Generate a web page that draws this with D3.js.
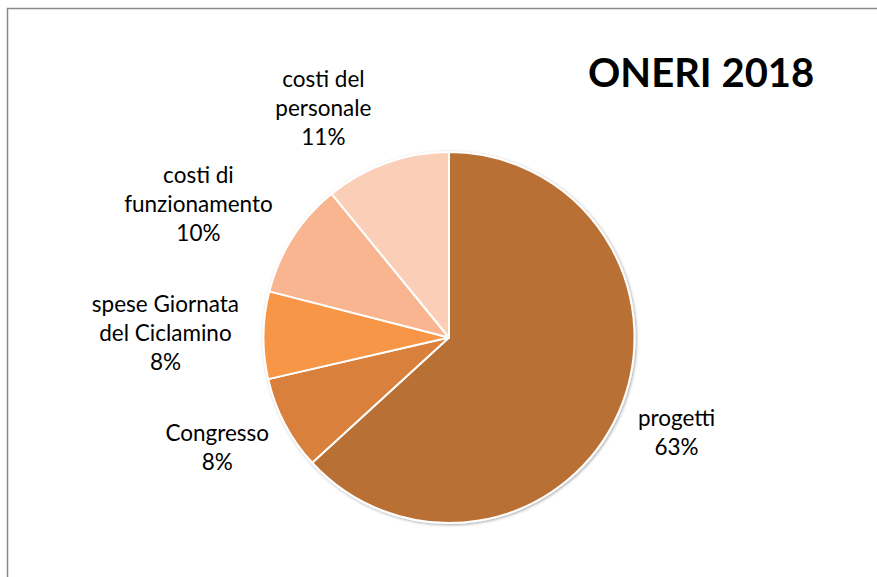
<!DOCTYPE html>
<html lang="it">
  <head>
    <meta charset="utf-8">
    <script src="https://cdn.jsdelivr.net/npm/d3@7"></script>
    <style>
      body { margin: 0; background: #fff; }
      text { font-family: Lato, "Open Sans", sans-serif; fill: #000; }
    </style>
  </head>
  <body>
    <div id="chart"></div>
    <script>

      // data (share of total, %)
      var categories = ["progetti", "Congresso", "spese Giornata del Ciclamino", "costi di funzionamento", "costi del personale"];
      var labelLines = [["progetti"], ["Congresso"], ["spese Giornata", "del Ciclamino"], ["costi di", "funzionamento"], ["costi del", "personale"]];
      var values = [63.2, 8.2, 7.6, 10.1, 10.9];
      var colors = ["#B97034", "#D9803D", "#F79646", "#F8B58F", "#FBCEB8"];
      var title = "ONERI 2018";

      var W = 877, H = 577;
      var cx = 449, cy = 337.5, radius = 185.5;

      var svg = d3.select("#chart").append("svg")
          .attr("width", W)
          .attr("height", H);

      // soft shadow like the spreadsheet pie
      var defs = svg.append("defs");
      var f = defs.append("filter").attr("id", "shadow")
          .attr("x", "-10%").attr("y", "-10%").attr("width", "120%").attr("height", "120%");
      f.append("feDropShadow")
          .attr("dx", 1).attr("dy", 1).attr("stdDeviation", 1.5)
          .attr("flood-color", "#000").attr("flood-opacity", 0.35);

      // chart frame
      svg.append("rect")
          .attr("x", 7.5).attr("y", 8.5)
          .attr("width", W + 20).attr("height", H + 20)
          .attr("fill", "none")
          .attr("stroke", "#8a8a8a")
          .attr("stroke-width", 1.5);

      var color = d3.scaleOrdinal().domain(categories).range(colors);

      var pie = d3.pie().sort(null).value(function(d, i) { return values[i]; });
      var arcs = pie(categories);
      var total = d3.sum(values);

      var arc = d3.arc().innerRadius(0).outerRadius(radius);

      var g = svg.append("g")
          .attr("transform", "translate(" + cx + "," + cy + ")");

      g.append("g")
          .attr("filter", "url(#shadow)")
          .selectAll("path")
          .data(arcs)
          .enter()
          .append("path")
          .attr("d", arc)
          .attr("fill", function(d) { return color(d.data); })
          .attr("stroke", "#fff")
          .attr("stroke-width", 2)
          .attr("stroke-linejoin", "round");

      // labels: outside the pie, box pushed out along the mid angle
      var fontSize = 22.5, lineH = 29, gap = 210;
      // small hand nudges, the spreadsheet's best fit moved these two
      var labelNudge = {"costi del personale": [-39, 10], "costi di funzionamento": [-11, 4]};

      var labels = g.append("g").selectAll("g")
          .data(arcs)
          .enter()
          .append("g");

      labels.each(function(d, i) {
        var lines = labelLines[i].concat([Math.round(values[i] / total * 100) + "%"]);
        var t = d3.select(this).append("text")
            .attr("text-anchor", "middle")
            .style("font-size", fontSize + "px");
        t.selectAll("tspan")
            .data(lines)
            .enter()
            .append("tspan")
            .attr("x", 0)
            .attr("y", function(l, j) { return (j - (lines.length - 1) / 2) * lineH + 7; })
            .text(function(l) { return l; });

        var w = d3.max(t.selectAll("tspan").nodes(), function(n) { return n.getComputedTextLength(); });
        var h = lines.length * lineH;
        var a = (d.startAngle + d.endAngle) / 2;
        var sx = Math.sin(a), sy = -Math.cos(a);
        var nx = sx * gap + sx * w / 2;
        var ny = sy * gap + sy * h / 2;
        var nudge = labelNudge[d.data] || [0, 0];
        d3.select(this).attr("transform", "translate(" + (nx + nudge[0]) + "," + (ny + nudge[1]) + ")");
      });

      // title
      svg.append("text")
          .attr("x", 588)
          .attr("y", 87)
          .style("font-size", "40px")
          .style("font-weight", "bold")
          .text(title);

    </script>
  </body>
</html>
